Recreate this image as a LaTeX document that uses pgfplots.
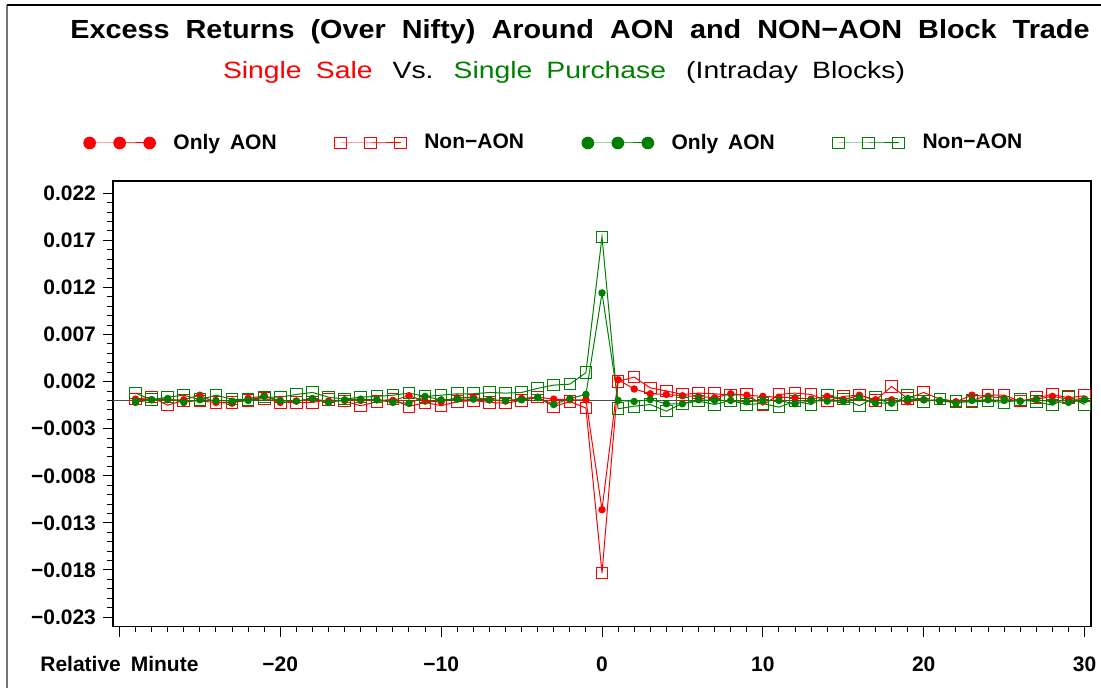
\documentclass[border=0pt]{standalone}
\usepackage{fontspec}
\setmainfont[WordSpace=1.7]{Liberation Sans}
\newfontfamily\titlefont[FakeStretch=1.1, WordSpace=2.0]{Liberation Sans}
\newfontfamily\subfont[FakeStretch=1.2, WordSpace=1.8]{Liberation Sans}
\usepackage{pgfplots}
\pgfplotsset{compat=1.18}
\usepackage{pgfplotstable}
\definecolor{sasred}{RGB}{255,0,0}
\definecolor{sasgreen}{RGB}{0,128,0}
\pgfplotsset{
  sqlegend/.style={legend image code/.code={\draw[mark repeat=1,mark phase=1,##1] plot coordinates {(0pt,0pt) (15pt,0pt) (30pt,0pt)};}},
  dotlegend/.style={legend image code/.code={\draw[mark repeat=1,mark phase=1,##1,mark size=2.9pt] plot coordinates {(0pt,0pt) (15pt,0pt) (30pt,0pt)};}},
}

\pgfplotstableread{
x rd rs gd gs
-29 0.00014 0.00014 -0.00021 0.00078
-28 0.00007 0.00035 0.00007 0.00007
-27 0.00007 -0.00050 0.00021 0.00035
-26 0.00007 0.00000 -0.00021 0.00056
-25 0.00056 -0.00007 0.00007 0.00007
-24 -0.00021 -0.00021 0.00000 0.00056
-23 -0.00029 -0.00021 -0.00007 0.00014
-22 0.00021 0.00000 0.00000 0.00007
-21 0.00050 0.00021 0.00043 0.00035
-20 -0.00021 -0.00021 0.00000 0.00035
-19 -0.00007 -0.00021 -0.00007 0.00064
-18 0.00014 -0.00021 0.00021 0.00085
-17 -0.00007 0.00007 -0.00021 0.00035
-16 0.00000 -0.00007 0.00007 0.00014
-15 0.00000 -0.00056 0.00014 0.00035
-14 0.00007 -0.00014 0.00007 0.00043
-13 0.00000 0.00014 -0.00021 0.00056
-12 0.00050 -0.00064 -0.00029 0.00078
-11 -0.00007 -0.00021 0.00043 0.00043
-10 -0.00014 -0.00056 0.00007 0.00056
-9 0.00029 -0.00014 0.00014 0.00071
-8 0.00035 0.00000 0.00014 0.00071
-7 0.00007 -0.00021 0.00007 0.00085
-6 -0.00007 -0.00029 0.00000 0.00078
-5 0.00021 0.00000 0.00007 0.00085
-4 0.00035 0.00035 0.00029 0.00128
-3 0.00014 -0.00064 -0.00043 0.00163
-2 0.00007 -0.00011 0.00021 0.00173
-1 0.00007 -0.00080 0.00064 0.00295
0 -0.01160 -0.01833 0.01142 0.01737
1 0.00220 0.00202 0.00000 -0.00088
2 0.00122 0.00248 -0.00011 -0.00061
3 0.00071 0.00133 0.00009 -0.00043
4 0.00064 0.00101 -0.00035 -0.00114
5 0.00050 0.00064 -0.00035 -0.00032
6 0.00043 0.00078 0.00007 -0.00007
7 0.00029 0.00071 0.00000 -0.00043
8 0.00071 0.00056 0.00000 0.00000
9 0.00056 0.00064 -0.00014 -0.00043
10 0.00043 -0.00050 0.00000 -0.00032
11 0.00035 0.00064 0.00000 -0.00071
12 0.00029 0.00078 -0.00035 -0.00007
13 0.00014 0.00064 0.00000 -0.00043
14 0.00043 -0.00007 -0.00007 0.00056
15 0.00007 0.00043 -0.00007 0.00014
16 0.00056 0.00056 0.00029 -0.00056
17 0.00007 0.00000 -0.00029 0.00035
18 0.00007 0.00149 -0.00029 -0.00043
19 -0.00014 0.00021 0.00014 0.00056
20 0.00007 0.00085 0.00007 -0.00014
21 -0.00007 0.00014 0.00000 0.00014
22 -0.00014 -0.00007 -0.00029 -0.00014
23 0.00056 0.00000 0.00000 -0.00014
24 0.00043 0.00056 0.00007 -0.00007
25 0.00021 0.00056 0.00000 -0.00021
26 -0.00007 -0.00007 -0.00007 0.00007
27 0.00014 0.00029 0.00007 -0.00014
28 0.00043 0.00064 -0.00014 -0.00050
29 0.00014 0.00029 -0.00021 0.00043
30 0.00014 0.00050 0.00007 -0.00043
}\data

\begin{document}
\begin{tikzpicture}
\useasboundingbox (-56.5pt,-30.25pt) rectangle (494pt,313.25pt);
\begin{axis}[
  scale only axis,
  width=489pt, height=222.75pt,
  xmin=-30.4, xmax=30.4,
  ymin=-0.024, ymax=0.0233,
  scaled y ticks=false, scaled x ticks=false,
  xtick={-30,-20,-10,0,10,20,30},
  xticklabels={Relative Minute,−20,−10,0,10,20,30},
  minor x tick num=9,
  ytick={-0.023,-0.018,-0.013,-0.008,-0.003,0.002,0.007,0.012,0.017,0.022},
  yticklabels={−0.023,−0.018,−0.013,−0.008,−0.003,0.002,0.007,0.012,0.017,0.022},
  minor y tick num=4,
  tick align=outside,
  xtick pos=bottom, ytick pos=left,
  major tick length=5pt, minor tick length=2.8pt,
  tick style={black, line width=0.5pt},
  axis line style={black, line width=0.6pt},
  ticklabel style={font=\bfseries\fontsize{10.5}{12}\selectfont},
  xticklabel style={yshift=-6.5pt},
  legend style={at={(0.452,1.0853)}, anchor=center, draw=none, fill=none,
    font=\bfseries\fontsize{10.5}{12}\selectfont,
    /tikz/every odd column/.append style={column sep=7pt},
    /tikz/every even column/.append style={column sep=27pt}},
  legend columns=4,
  legend cell align=left,
]
\addplot[black!70, line width=0.6pt, forget plot] coordinates {(-30.4,0) (30.4,0)};
\addplot[sasred, line width=0.5pt, mark=*, mark size=1.6pt, mark options={fill=sasred, draw=sasred}, dotlegend]
  table[x=x,y=rd]{\data};
\addlegendentry{Only AON}
\addplot[sasred, line width=0.5pt, mark=square, mark size=2.9pt, mark options={draw=sasred}, sqlegend]
  table[x=x,y=rs]{\data};
\addlegendentry{Non−AON}
\addplot[sasgreen, line width=0.5pt, mark=*, mark size=1.6pt, mark options={fill=sasgreen, draw=sasgreen}, dotlegend]
  table[x=x,y=gd]{\data};
\addlegendentry{Only AON}
\addplot[sasgreen, line width=0.5pt, mark=square, mark size=2.9pt, mark options={draw=sasgreen}, sqlegend]
  table[x=x,y=gs]{\data};
\addlegendentry{Non−AON}
\end{axis}
\node[font=\titlefont\bfseries\fontsize{13.1}{15}\selectfont] at (233.5pt,297.25pt)
  {Excess Returns (Over Nifty) Around AON and NON−AON Block Trade};
\node[font=\subfont\fontsize{11.8}{14}\selectfont] at (225.5pt,277.25pt)
  {\textcolor{sasred}{Single Sale}\hspace{0.85em}Vs.\hspace{0.85em}\textcolor{sasgreen}{Single Purchase}\hspace{0.85em}(Intraday Blocks)};
\draw[black!55, line width=0.8pt] (-53pt,-40pt) -- (-53pt,310.75pt);
\draw[black, line width=0.6pt] (-53pt,310.75pt) -- (500pt,310.75pt);
\end{tikzpicture}
\end{document}
